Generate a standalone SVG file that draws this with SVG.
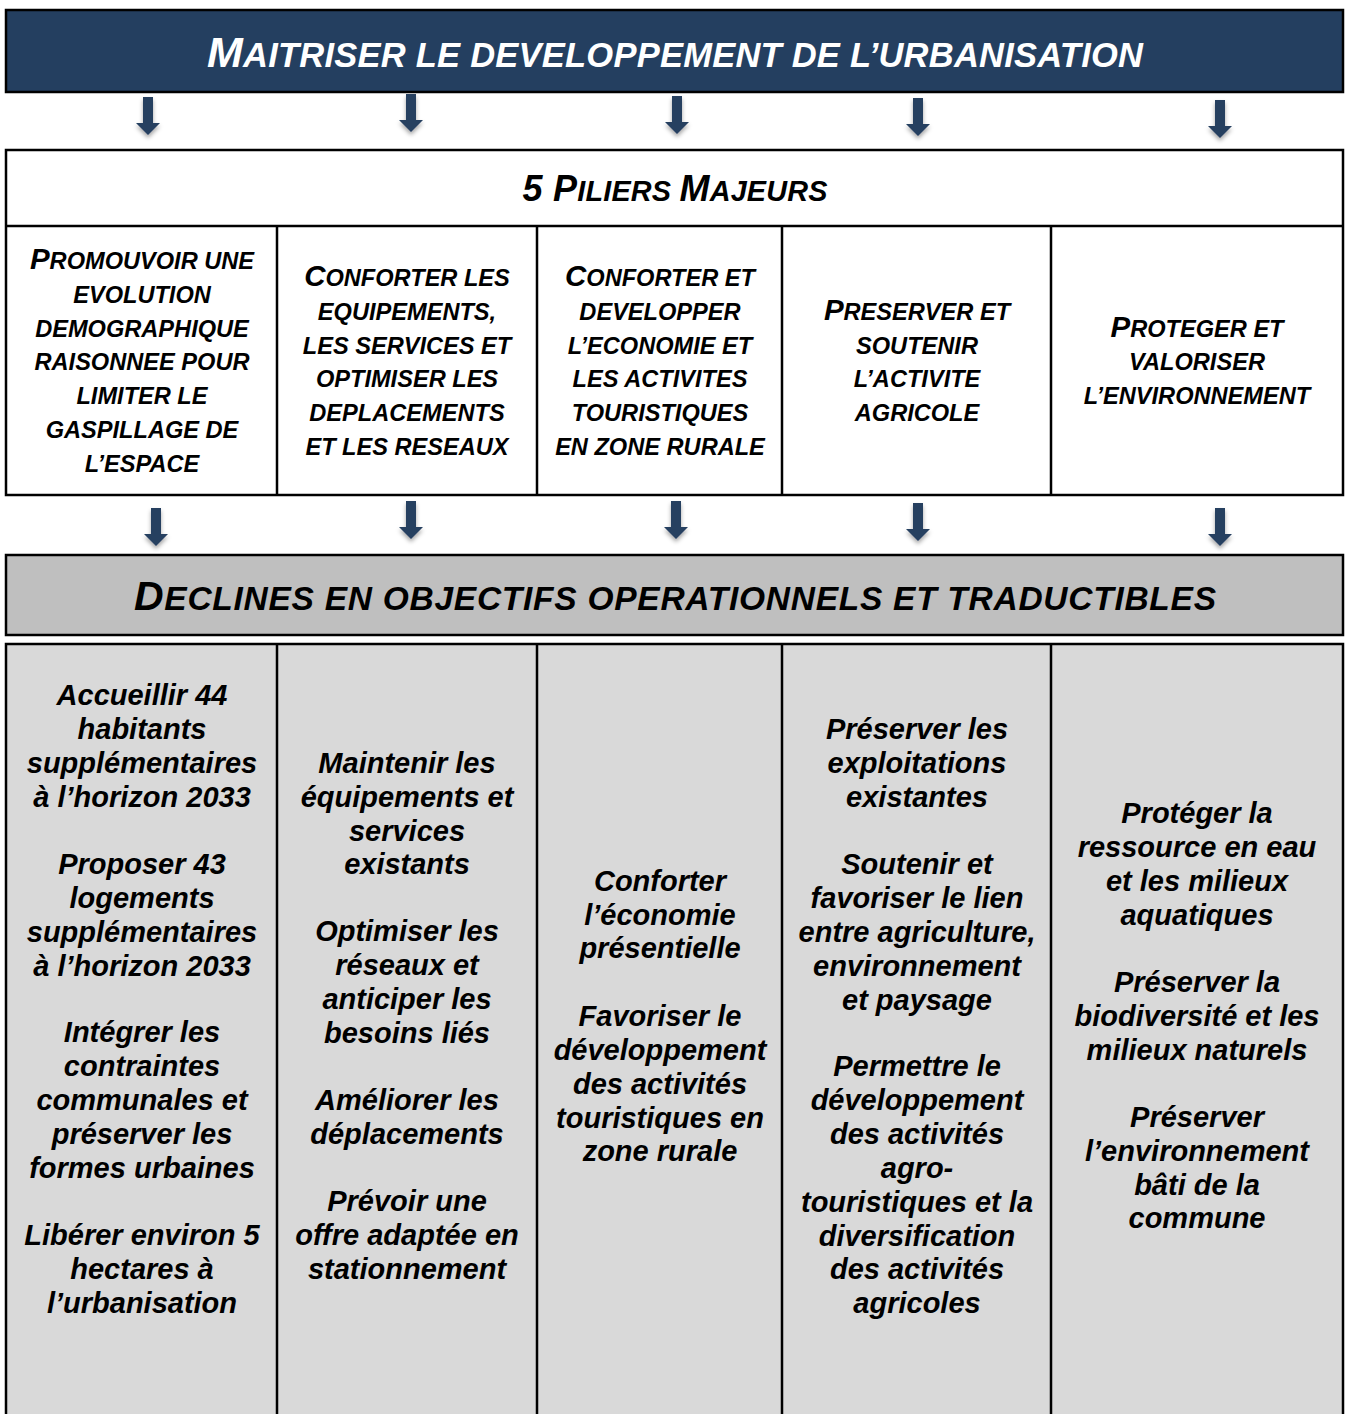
<svg xmlns="http://www.w3.org/2000/svg" width="1346" height="1414" viewBox="0 0 1346 1414">
<style>
text{font-family:"Liberation Sans",Arial,sans-serif;font-weight:bold;font-style:italic;text-anchor:middle;fill:#000}
.box{stroke:#000;stroke-width:2.5}
.pb{font-size:29.5px}
.ps{font-size:23.6px}
.obj{font-size:29px}
.arrow{fill:#254061;filter:url(#sh)}
</style>
<defs>
<filter id="sh" x="-50%" y="-30%" width="200%" height="170%">
<feDropShadow dx="0" dy="3" stdDeviation="2" flood-color="#000" flood-opacity="0.35"/>
</filter>
<path id="arr" d="M-5,0 H5 V26 H12 L0,38 L-12,26 H-5 Z"/>
</defs>
<rect width="1346" height="1414" fill="#fff"/>

<g id="header">
<rect class="box" x="6" y="10" width="1337" height="82" fill="#243F60"/>
<text x="675" y="67" style="fill:#fff" textLength="936"><tspan font-size="43">M</tspan><tspan font-size="34.5">AITRISER LE DEVELOPPEMENT DE L’URBANISATION</tspan></text>
</g>

<g id="connectors">
<use href="#arr" class="arrow" x="148" y="97"/>
<use href="#arr" class="arrow" x="411" y="94"/>
<use href="#arr" class="arrow" x="677" y="96"/>
<use href="#arr" class="arrow" x="918" y="98"/>
<use href="#arr" class="arrow" x="1220" y="100"/>
<use href="#arr" class="arrow" x="156" y="508"/>
<use href="#arr" class="arrow" x="411" y="501"/>
<use href="#arr" class="arrow" x="676" y="501"/>
<use href="#arr" class="arrow" x="918" y="503"/>
<use href="#arr" class="arrow" x="1220" y="508"/>
</g>

<g id="piliers">
<rect class="box" x="6" y="150" width="1337" height="345" fill="#fff"/>
<line class="box" x1="6" y1="226" x2="1343" y2="226"/>
<line class="box" x1="277" y1="226" x2="277" y2="495"/>
<line class="box" x1="537" y1="226" x2="537" y2="495"/>
<line class="box" x1="782" y1="226" x2="782" y2="495"/>
<line class="box" x1="1051" y1="226" x2="1051" y2="495"/>
<text x="675" y="201" textLength="305"><tspan font-size="36">5 P</tspan><tspan font-size="28.8">ILIERS </tspan><tspan font-size="36">M</tspan><tspan font-size="28.8">AJEURS</tspan></text>
</g>

<g id="pilier1">
<text x="142" y="269"><tspan class="pb">P</tspan><tspan class="ps">ROMOUVOIR UNE</tspan></text>
<text class="ps" x="142" y="303">EVOLUTION</text>
<text class="ps" x="142" y="337">DEMOGRAPHIQUE</text>
<text class="ps" x="142" y="370">RAISONNEE POUR</text>
<text class="ps" x="142" y="404">LIMITER LE</text>
<text class="ps" x="142" y="438">GASPILLAGE DE</text>
<text class="ps" x="142" y="472">L’ESPACE</text>
</g>
<g id="pilier2">
<text x="407" y="286"><tspan class="pb">C</tspan><tspan class="ps">ONFORTER LES</tspan></text>
<text class="ps" x="407" y="320">EQUIPEMENTS,</text>
<text class="ps" x="407" y="354">LES SERVICES ET</text>
<text class="ps" x="407" y="387">OPTIMISER LES</text>
<text class="ps" x="407" y="421">DEPLACEMENTS</text>
<text class="ps" x="407" y="455">ET LES RESEAUX</text>
</g>
<g id="pilier3">
<text x="660" y="286"><tspan class="pb">C</tspan><tspan class="ps">ONFORTER ET</tspan></text>
<text class="ps" x="660" y="320">DEVELOPPER</text>
<text class="ps" x="660" y="354">L’ECONOMIE ET</text>
<text class="ps" x="660" y="387">LES ACTIVITES</text>
<text class="ps" x="660" y="421">TOURISTIQUES</text>
<text class="ps" x="660" y="455">EN ZONE RURALE</text>
</g>
<g id="pilier4">
<text x="917" y="320"><tspan class="pb">P</tspan><tspan class="ps">RESERVER ET</tspan></text>
<text class="ps" x="917" y="354">SOUTENIR</text>
<text class="ps" x="917" y="387">L’ACTIVITE</text>
<text class="ps" x="917" y="421">AGRICOLE</text>
</g>
<g id="pilier5">
<text x="1197" y="337"><tspan class="pb">P</tspan><tspan class="ps">ROTEGER ET</tspan></text>
<text class="ps" x="1197" y="370">VALORISER</text>
<text class="ps" x="1197" y="404">L’ENVIRONNEMENT</text>
</g>

<g id="banner">
<rect class="box" x="6" y="555" width="1337" height="80" fill="#BFBFBF"/>
<text x="675" y="610" textLength="1082"><tspan font-size="41">D</tspan><tspan font-size="33.5">ECLINES EN OBJECTIFS OPERATIONNELS ET TRADUCTIBLES</tspan></text>
</g>

<g id="objectifs">
<rect class="box" x="6" y="644" width="1337" height="780" fill="#D9D9D9"/>
<line class="box" x1="277" y1="644" x2="277" y2="1414"/>
<line class="box" x1="537" y1="644" x2="537" y2="1414"/>
<line class="box" x1="782" y1="644" x2="782" y2="1414"/>
<line class="box" x1="1051" y1="644" x2="1051" y2="1414"/>
</g>

<g id="objectif1" class="obj">
<text class="obj" x="142" y="705">Accueillir 44</text>
<text class="obj" x="142" y="739">habitants</text>
<text class="obj" x="142" y="773">supplémentaires</text>
<text class="obj" x="142" y="807">à l’horizon 2033</text>
<text class="obj" x="142" y="874">Proposer 43</text>
<text class="obj" x="142" y="908">logements</text>
<text class="obj" x="142" y="942">supplémentaires</text>
<text class="obj" x="142" y="976">à l’horizon 2033</text>
<text class="obj" x="142" y="1042">Intégrer les</text>
<text class="obj" x="142" y="1076">contraintes</text>
<text class="obj" x="142" y="1110">communales et</text>
<text class="obj" x="142" y="1144">préserver les</text>
<text class="obj" x="142" y="1178">formes urbaines</text>
<text class="obj" x="142" y="1245">Libérer environ 5</text>
<text class="obj" x="142" y="1279">hectares à</text>
<text class="obj" x="142" y="1313">l’urbanisation</text>
</g>
<g id="objectif2">
<text class="obj" x="407" y="773">Maintenir les</text>
<text class="obj" x="407" y="807">équipements et</text>
<text class="obj" x="407" y="841">services</text>
<text class="obj" x="407" y="874">existants</text>
<text class="obj" x="407" y="941">Optimiser les</text>
<text class="obj" x="407" y="975">réseaux et</text>
<text class="obj" x="407" y="1009">anticiper les</text>
<text class="obj" x="407" y="1043">besoins liés</text>
<text class="obj" x="407" y="1110">Améliorer les</text>
<text class="obj" x="407" y="1144">déplacements</text>
<text class="obj" x="407" y="1211">Prévoir une</text>
<text class="obj" x="407" y="1245">offre adaptée en</text>
<text class="obj" x="407" y="1279">stationnement</text>
</g>
<g id="objectif3">
<text class="obj" x="660" y="891">Conforter</text>
<text class="obj" x="660" y="925">l’économie</text>
<text class="obj" x="660" y="958">présentielle</text>
<text class="obj" x="660" y="1026">Favoriser le</text>
<text class="obj" x="660" y="1060">développement</text>
<text class="obj" x="660" y="1094">des activités</text>
<text class="obj" x="660" y="1128">touristiques en</text>
<text class="obj" x="660" y="1161">zone rurale</text>
</g>
<g id="objectif4">
<text class="obj" x="917" y="739">Préserver les</text>
<text class="obj" x="917" y="773">exploitations</text>
<text class="obj" x="917" y="807">existantes</text>
<text class="obj" x="917" y="874">Soutenir et</text>
<text class="obj" x="917" y="908">favoriser le lien</text>
<text class="obj" x="917" y="942">entre agriculture,</text>
<text class="obj" x="917" y="976">environnement</text>
<text class="obj" x="917" y="1010">et paysage</text>
<text class="obj" x="917" y="1076">Permettre le</text>
<text class="obj" x="917" y="1110">développement</text>
<text class="obj" x="917" y="1144">des activités</text>
<text class="obj" x="917" y="1178">agro-</text>
<text class="obj" x="917" y="1212">touristiques et la</text>
<text class="obj" x="917" y="1246">diversification</text>
<text class="obj" x="917" y="1279">des activités</text>
<text class="obj" x="917" y="1313">agricoles</text>
</g>
<g id="objectif5">
<text class="obj" x="1197" y="823">Protéger la</text>
<text class="obj" x="1197" y="857">ressource en eau</text>
<text class="obj" x="1197" y="891">et les milieux</text>
<text class="obj" x="1197" y="925">aquatiques</text>
<text class="obj" x="1197" y="992">Préserver la</text>
<text class="obj" x="1197" y="1026">biodiversité et les</text>
<text class="obj" x="1197" y="1060">milieux naturels</text>
<text class="obj" x="1197" y="1127">Préserver</text>
<text class="obj" x="1197" y="1161">l’environnement</text>
<text class="obj" x="1197" y="1195">bâti de la</text>
<text class="obj" x="1197" y="1228">commune</text>
</g>
</svg>
